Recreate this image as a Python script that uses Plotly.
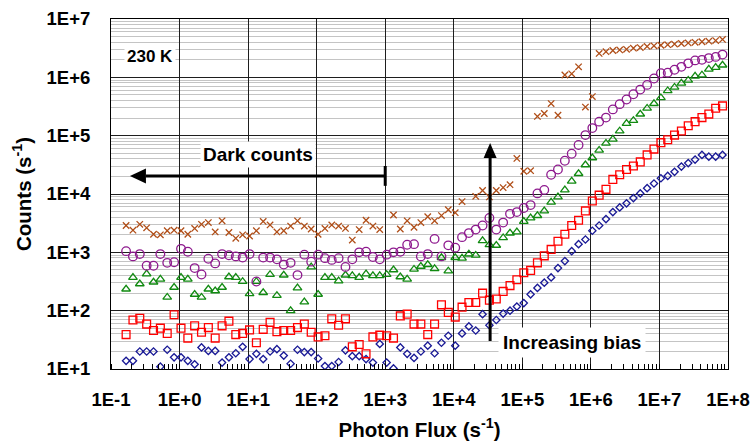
import plotly.graph_objects as go

photon_flux = [
    1.66e-1, 2.09e-1, 2.63e-1, 3.31e-1, 4.17e-1, 5.25e-1, 6.61e-1, 8.32e-1, 1.05e0, 1.32e0,
    1.66e0, 2.09e0, 2.63e0, 3.31e0, 4.17e0, 5.25e0, 6.61e0, 8.32e0, 1.05e1, 1.32e1,
    1.66e1, 2.09e1, 2.63e1, 3.31e1, 4.17e1, 5.25e1, 6.61e1, 8.32e1, 1.05e2, 1.32e2,
    1.66e2, 2.09e2, 2.63e2, 3.31e2, 4.17e2, 5.25e2, 6.61e2, 8.32e2, 1.05e3, 1.32e3,
    1.66e3, 2.09e3, 2.63e3, 3.31e3, 4.17e3, 5.25e3, 6.61e3, 8.32e3, 1.05e4, 1.32e4,
    1.66e4, 2.09e4, 2.63e4, 3.31e4, 4.17e4, 5.25e4, 6.61e4, 8.32e4, 1.05e5, 1.32e5,
    1.66e5, 2.09e5, 2.63e5, 3.31e5, 4.17e5, 5.25e5, 6.61e5, 8.32e5, 1.05e6, 1.32e6,
    1.66e6, 2.09e6, 2.63e6, 3.31e6, 4.17e6, 5.25e6, 6.61e6, 8.32e6, 1.05e7, 1.32e7,
    1.66e7, 2.09e7, 2.63e7, 3.31e7, 4.17e7, 5.25e7, 6.61e7, 8.32e7,
]

# Counts, stored as log10(counts / s^-1); None = no point
log10_counts_bias1 = [  # lowest bias (blue diamonds)
    1.14, 1.14, 1.30, 1.30, 1.30, 1.04, 1.33, 1.20, 1.20, 1.14,
    1.08, 1.37, 1.31, 1.31, 1.11, 1.20, 1.27, 1.38, 1.17, 1.26,
    1.17, 1.30, 1.34, 1.23, 1.09, 1.33, 1.29, 1.29, 1.18, 1.05,
    1.05, 1.12, 1.32, 1.22, 1.22, 1.17, 1.11, 1.43, 1.11, 1.01,
    1.37, 1.26, 1.19, 1.30, 1.40, 1.27, 1.45, 1.57, 1.40, 1.61,
    1.73, 1.66, 1.94, 1.75, 1.84, 1.95, 2.00, 2.07, 2.13, 2.28,
    2.39, 2.48, 2.57, 2.73, 2.85, 3.02, 3.14, 3.22, 3.37, 3.46,
    3.57, 3.69, 3.77, 3.84, 3.93, 4.01, 4.10, 4.18, 4.27, 4.31,
    4.38, 4.47, 4.53, 4.59, 4.67, 4.64, 4.64, 4.67,
]
log10_counts_bias2 = [  # red squares
    1.59, 1.84, 1.87, 1.77, 1.66, 1.70, 1.61, 1.93, 1.70, 1.53,
    1.74, 1.63, 1.71, 1.53, 1.74, 1.82, 1.59, 1.61, 1.67, 1.45,
    1.68, 1.80, 1.64, 1.66, 1.66, 1.71, 1.77, 1.63, 1.55, 1.57,
    1.86, 1.75, 1.86, 1.38, 1.42, 1.26, 1.55, 1.58, 1.57, 1.53,
    1.91, 1.94, 1.77, 1.77, 1.59, 1.77, 2.10, 1.97, 1.89, 2.06,
    2.14, 2.14, 2.30, 2.18, 2.20, 2.33, 2.43, 2.53, 2.65, 2.69,
    2.82, 2.94, 3.05, 3.19, 3.31, 3.46, 3.55, 3.71, 3.88, 3.98,
    4.08, 4.25, 4.33, 4.42, 4.48, 4.55, 4.67, 4.77, 4.88, 4.93,
    5.01, 5.08, 5.17, 5.24, 5.31, 5.37, 5.47, 5.51,
]
log10_counts_bias3 = [  # green triangles
    2.37, 2.57, 2.46, 2.63, 2.49, 2.54, 2.23, 2.40, 2.57, 2.54,
    2.28, 2.23, 2.37, 2.34, 2.40, 2.58, 2.57, 2.50, 2.29, 2.50,
    2.31, 2.62, 2.26, 2.61, 2.00, 2.39, 2.15, 2.75, 2.28, 2.57,
    2.57, 2.51, 2.61, 2.60, 2.57, 2.63, 2.60, 2.60, 2.62, 2.70,
    2.58, 2.54, 2.71, 2.76, 2.79, 2.72, 2.91, 2.68, 2.91, 2.90,
    2.97, 2.95, 3.20, 3.13, 3.12, 3.25, 3.33, 3.35, 3.53, 3.59,
    3.63, 3.71, 3.86, 3.95, 4.07, 4.22, 4.35, 4.50, 4.62, 4.75,
    4.87, 4.94, 5.08, 5.21, 5.26, 5.37, 5.47, 5.55, 5.65, 5.77,
    5.83, 5.90, 5.95, 6.02, 6.04, 6.14, 6.17, 6.21,
]
log10_counts_bias4 = [  # purple circles
    3.02, 2.93, 2.97, 2.77, 2.77, 2.97, 2.82, 2.83, 3.06, 3.01,
    2.73, 2.62, 2.89, 2.81, 2.97, 2.95, 2.93, 2.91, 2.97, 2.50,
    2.91, 2.91, 2.88, 2.79, 2.82, 2.61, 2.96, 2.84, 2.96, 2.90,
    2.87, 2.90, 2.75, 2.88, 3.00, 3.01, 2.92, 2.88, 2.96, 3.00,
    3.01, 3.13, 3.14, 2.93, 2.97, 3.23, 2.93, 3.12, 3.08, 3.26,
    3.33, 3.39, 3.46, 3.59, 3.39, 3.51, 3.66, 3.69, 3.76, 3.81,
    4.01, 4.07, 4.33, 4.42, 4.57, 4.69, 4.84, 5.01, 5.13, 5.24,
    5.31, 5.45, 5.54, 5.62, 5.71, 5.79, 5.87, 5.98, 6.07, 6.08,
    6.13, 6.18, 6.24, 6.29, 6.30, 6.33, 6.35, 6.39,
]
log10_counts_bias5 = [  # highest bias (brown crosses)
    3.46, 3.38, 3.48, 3.42, 3.31, 3.30, 3.37, 3.38, 3.37, 3.31,
    3.41, 3.48, 3.51, 3.35, 3.54, 3.34, 3.24, 3.30, 3.28, 3.37,
    3.53, 3.47, 3.35, 3.37, 3.45, 3.54, 3.45, 3.40, 3.31, 3.41,
    3.47, 3.45, 3.41, 3.21, 3.39, 3.55, 3.45, 3.39, None, 3.64,
    3.40, 3.54, 3.43, 3.51, 3.61, 3.54, 3.63, 3.73, 3.68, 3.87,
    None, 3.96, 4.06, 3.95, 4.06, 4.11, 4.16, 4.61, 4.39, 4.40,
    5.33, 5.38, 5.55, 5.35, 6.04, 6.06, 6.18, 5.49, 5.67, 6.41,
    6.44, 6.46, 6.47, 6.48, 6.50, 6.51, 6.53, 6.54, 6.55, 6.56,
    6.57, 6.58, 6.59, 6.60, 6.61, 6.62, 6.63, 6.65,
]

x_tick_values = [1e-1, 1e0, 1e1, 1e2, 1e3, 1e4, 1e5, 1e6, 1e7, 1e8]
x_tick_labels = ["1E-1", "1E+0", "1E+1", "1E+2", "1E+3", "1E+4", "1E+5", "1E+6", "1E+7", "1E+8"]
y_tick_values = [1e1, 1e2, 1e3, 1e4, 1e5, 1e6, 1e7]
y_tick_labels = ["1E+1", "1E+2", "1E+3", "1E+4", "1E+5", "1E+6", "1E+7"]

series = [
    ("bias 1", log10_counts_bias1, "diamond-open", "#1a1a96", 5.6),
    ("bias 2", log10_counts_bias2, "square-open", "#ff0000", 7.8),
    ("bias 3", log10_counts_bias3, "triangle-up-open", "#118a11", 7.6),
    ("bias 4", log10_counts_bias4, "circle-open", "#8e1a8e", 8.6),
    ("bias 5", log10_counts_bias5, "x-thin-open", "#b04e18", 6.4),
]

# Annotation geometry (data units)
dark_arrow_tail_x, dark_arrow_head_x, dark_arrow_y = 1e3, 0.189, 10 ** 4.31
dark_arrow_base_x = 0.324
bias_arrow_x, bias_arrow_tail_y, bias_arrow_head_y = 10 ** 4.53, 10 ** 1.48, 10 ** 4.874
bias_arrow_base_y = 10 ** 4.62

FONT = "Liberation Sans, Arial, sans-serif"

fig = go.Figure()
for name, logs, symbol, color, size in series:
    counts = [None if v is None else 10 ** v for v in logs]
    fig.add_trace(go.Scatter(
        x=photon_flux, y=counts, mode="markers", name=name,
        marker=dict(symbol=symbol, size=size, color=color,
                    line=dict(color=color, width=1.3)),
    ))

fig.update_layout(
    width=753, height=445,
    margin=dict(l=111, r=25, t=19, b=76),
    paper_bgcolor="white", plot_bgcolor="white",
    showlegend=False,
    font=dict(family=FONT, color="black"),
)

fig.update_xaxes(
    type="log", range=[-1, 8],
    tickmode="array", tickvals=x_tick_values, ticktext=x_tick_labels,
    tickfont=dict(size=18.5, weight="bold", family=FONT),
    ticks="", ticklabelstandoff=14, ticklabeloverflow="allow",
    showgrid=True, gridcolor="#1e1e1e", gridwidth=1,
    showline=True, linecolor="black", linewidth=1, mirror=True,
    zeroline=False,
    minor=dict(dtick="D1", ticks="inside", ticklen=5, tickcolor="black",
               tickwidth=1, showgrid=False),
    title=dict(text="Photon Flux (s<sup>-1</sup>)", standoff=13,
               font=dict(size=20.5, weight="bold", family=FONT)),
    automargin=False,
)
fig.update_yaxes(
    type="log", range=[1, 7],
    tickmode="array", tickvals=y_tick_values, ticktext=y_tick_labels,
    tickfont=dict(size=18.5, weight="bold", family=FONT),
    ticks="", ticklabelstandoff=16,
    showgrid=True, gridcolor="#1e1e1e", gridwidth=1,
    showline=True, linecolor="black", linewidth=1, mirror=True,
    zeroline=False,
    minor=dict(dtick="D1", ticks="", showgrid=True, gridcolor="#c4c4c4", gridwidth=1),
    title=dict(text="Counts (s<sup>-1</sup>)", standoff=9,
               font=dict(size=20.5, weight="bold", family=FONT)),
    automargin=False,
)

# "Dark counts" arrow: shaft, end bar and filled head
fig.add_shape(type="line", xref="x", yref="y", x0=dark_arrow_tail_x, x1=dark_arrow_base_x,
              y0=dark_arrow_y, y1=dark_arrow_y, line=dict(color="black", width=3))
fig.add_shape(type="line", xref="x", yref="y", x0=dark_arrow_tail_x, x1=dark_arrow_tail_x,
              y0=10 ** 4.14, y1=10 ** 4.48, line=dict(color="black", width=3))
fig.add_shape(type="path", xref="x", yref="y", xsizemode="pixel", ysizemode="pixel",
              xanchor=dark_arrow_head_x, yanchor=dark_arrow_y,
              path="M0,0 L16,7.5 L16,-7.5 Z", fillcolor="black", line=dict(width=0))

# "Increasing bias" arrow: shaft and filled head
fig.add_shape(type="line", xref="x", yref="y", x0=bias_arrow_x, x1=bias_arrow_x,
              y0=bias_arrow_tail_y, y1=bias_arrow_base_y, line=dict(color="black", width=3))
fig.add_shape(type="path", xref="x", yref="y", xsizemode="pixel", ysizemode="pixel",
              xanchor=bias_arrow_x, yanchor=bias_arrow_head_y,
              path="M0,0 L-6.5,-15 L6.5,-15 Z", fillcolor="black", line=dict(width=0))

# Text labels (annotation coordinates on log axes are log10 values)
label_font = dict(family=FONT, size=19, color="black", weight="bold")
fig.add_annotation(x=-0.43, y=6.35, xref="x", yref="y", text="230 K",
                   showarrow=False, bgcolor="white", borderpad=2,
                   font=dict(family=FONT, size=17, color="black", weight="bold"))
fig.add_annotation(x=1.137, y=4.67, xref="x", yref="y", text="Dark counts",
                   showarrow=False, bgcolor="white", borderpad=2, font=label_font)
fig.add_annotation(x=5.72, y=1.46, xref="x", yref="y", text="Increasing bias",
                   showarrow=False, bgcolor="white", borderpad=4, font=label_font)

# remove the default page margin so the 753x445 figure fills the window exactly
fig.write_html("out.html",
               config={"displayModeBar": False},
               post_script="document.body.style.margin='0';document.body.style.overflow='hidden';")
